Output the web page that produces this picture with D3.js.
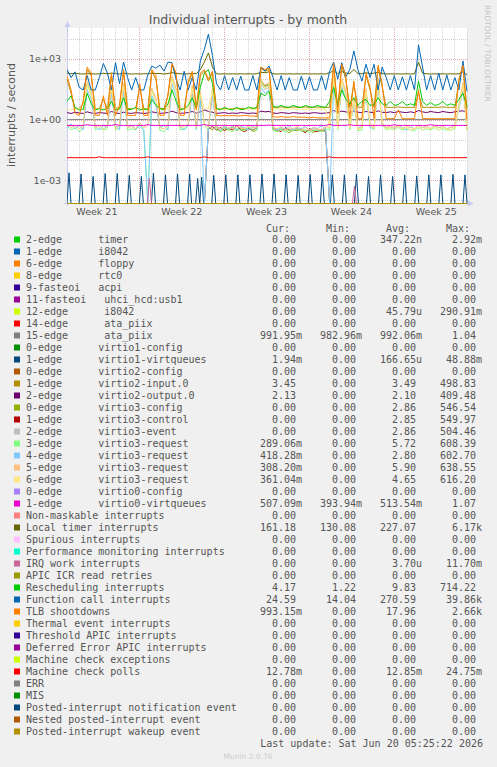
<!DOCTYPE html>
<html><head><meta charset="utf-8">
<script src="https://cdn.jsdelivr.net/npm/d3@7/dist/d3.min.js"></script>
<style>
body{margin:0;background:#f0f0f0;}
svg{display:block;}
text{font-family:"DejaVu Sans",sans-serif;}
.mono{font-family:"DejaVu Sans Mono",monospace;font-size:10px;fill:#555;white-space:pre;}
</style></head><body><svg id="c" width="497" height="767"></svg>
<script>
// ---------- data ----------
const title = "Individual interrupts - by month";
const yAxisLabel = "interrupts / second";
const timeStart = new Date(2026,4,18,0,50,0);
const timeEnd = new Date(2026,5,20,0,50,0);
const yTickLabels = ["1e-03","1e+00","1e+03"];
const yTickValues = [1e-3,1,1e3];
const yGridValues = [1e-4,1e-3,1e-2,1e-1,1,1e1,1e2,1e3,1e4];

const seriesLabels = [
"2-edge      timer","1-edge      i8042","6-edge      floppy","8-edge      rtc0",
"9-fasteoi   acpi","11-fasteoi   uhci_hcd:usb1","12-edge      i8042","14-edge      ata_piix",
"15-edge      ata_piix","0-edge      virtio1-config","1-edge      virtio1-virtqueues",
"0-edge      virtio2-config","1-edge      virtio2-input.0","2-edge      virtio2-output.0",
"0-edge      virtio3-config","1-edge      virtio3-control","2-edge      virtio3-event",
"3-edge      virtio3-request","4-edge      virtio3-request","5-edge      virtio3-request",
"6-edge      virtio3-request","0-edge      virtio0-config","1-edge      virtio0-virtqueues",
"Non-maskable interrupts","Local timer interrupts","Spurious interrupts",
"Performance monitoring interrupts","IRQ work interrupts","APIC ICR read retries",
"Rescheduling interrupts","Function call interrupts","TLB shootdowns",
"Thermal event interrupts","Threshold APIC interrupts","Deferred Error APIC interrupts",
"Machine check exceptions","Machine check polls","ERR","MIS",
"Posted-interrupt notification event","Nested posted-interrupt event","Posted-interrupt wakeup event"];

const seriesColors = [
"#00cc00","#0066b3","#ff8000","#ffcc00","#330099","#990099","#ccff00","#ff0000","#808080",
"#008f00","#00487d","#b35a00","#b38f00","#6b006b","#8fb300","#b30000","#bebebe","#80ff80",
"#80c9ff","#ffc080","#ffe680","#aa80ff","#ee00cc","#ff8080","#666600","#ffbfff","#00ffcc",
"#cc6699","#999900","#00cc00","#0066b3","#ff8000","#ffcc00","#330099","#990099","#ccff00",
"#ff0000","#808080","#008f00","#00487d","#b35a00","#b38f00"];

const legendCur = ["0.00","0.00","0.00","0.00","0.00","0.00","0.00","0.00","991.95m","0.00","1.94m","0.00","3.45","2.13","0.00","0.00","0.00","289.06m","418.28m","308.20m","361.04m","0.00","507.09m","0.00","161.18","0.00","0.00","0.00","0.00","4.17","24.59","993.15m","0.00","0.00","0.00","0.00","12.78m","0.00","0.00","0.00","0.00","0.00"];
const legendMin = ["0.00","0.00","0.00","0.00","0.00","0.00","0.00","0.00","982.96m","0.00","0.00","0.00","0.00","0.00","0.00","0.00","0.00","0.00","0.00","0.00","0.00","0.00","393.94m","0.00","130.08","0.00","0.00","0.00","0.00","1.22","14.04","0.00","0.00","0.00","0.00","0.00","0.00","0.00","0.00","0.00","0.00","0.00"];
const legendAvg = ["347.22n","0.00","0.00","0.00","0.00","0.00","45.79u","0.00","992.06m","0.00","166.65u","0.00","3.49","2.10","2.86","2.85","2.86","5.72","2.80","5.90","4.65","0.00","513.54m","0.00","227.07","0.00","0.00","3.70u","0.00","9.83","270.59","17.96","0.00","0.00","0.00","0.00","12.85m","0.00","0.00","0.00","0.00","0.00"];
const legendMax = ["2.92m","0.00","0.00","0.00","0.00","0.00","290.91m","0.00","1.04","0.00","48.88m","0.00","498.83","409.48","546.54","549.97","504.46","608.39","602.70","638.55","616.20","0.00","1.07","0.00","6.17k","0.00","0.00","11.70m","0.00","714.22","39.86k","2.66k","0.00","0.00","0.00","0.00","24.75m","0.00","0.00","0.00","0.00","0.00"];

// series values, evenly spaced over the time range
const flatZero = [0,0];
const ataPiix15 = [0.99,0.99,0.992,0.99,0.991,0.99,0.992,0.99,0.99,0.992];
const virtio1Vq = [
0,0.0023,0,0,0,0,0,0.0020,0,0,0,0,0,0.0015,0,0,0,0,0,0.0021,
0,0,0,0,0,0.0021,0,0,0,0,0,0.0017,0,0,0,0,0,0.0015,0,0,
0,0,0,0.0022,0,0,0,0,0,0.0018,0,0,0,0,0,0.0020,0,0,0,0,
0,0.0020,0,0,0,0.0012,0,0.0014,0,0,0,0,0,0.0017,0,0,0,0,0,0.0018,
0,0,0,0,0,0.0018,0,0,0,0,0,0.0018,0,0,0,0,0,0.0020,0,0,
0,0,0,0.0020,0,0,0,0,0,0.0018,0,0,0,0,0,0.0017,0,0,0,0,
0,0.0019,0,0,0,0,0,0.0019,0,0,0,0,0.0018,0,0,0,0,0,0.0018,0,
0,0,0,0,0.0019,0,0,0,0,0,0.0015,0,0,0,0,0,0.0018,0,0,0,
0,0,0.0015,0,0,0,0,0,0.0018,0,0,0,0,0,0.0016,0,0,0,0,0,
0.0018,0,0,0,0,0,0.0018,0,0,0,0,0,0.0019,0,0,0,0,0,0.0018,0];
const irqWork = [
0,0,0,0,0,0,0,0,0,0,0,0,0,0,0,0,0,0,0,0,
0,0,0,0,0,0,0,0,0,0,0,0,0,0,0,0,0,0,0,0,
0,0.0012,0,0,0,0,0,0,0,0,0,0,0,0,0,0,0,0,0,0,
0,0,0,0,0,0,0,0,0,0,0,0,0,0,0,0,0,0,0,0,
0,0,0,0,0,0,0,0,0,0,0,0,0,0,0,0,0,0,0,0,
0,0,0,0,0,0,0,0,0,0,0,0,0,0,0,0,0,0,0,0,
0,0,0,0,0,0,0,0,0,0,0,0,0,0,0,0,0,0,0,0,
0,0,0,0.0005,0,0,0,0,0,0,0,0,0,0,0,0,0,0,0,0,
0,0,0,0,0,0,0,0,0,0,0,0,0,0,0,0,0,0,0,0,
0,0,0,0,0,0,0,0,0,0,0,0,0,0,0,0,0,0,0,0];
const functionCall = [
300,120,230,40,29,150,29,29,120,600,
200,29,650,60,700,120,29,120,29,29,
160,450,350,500,250,700,650,100,29,250,
29,120,29,800,3000,17000,1500,60,29,150,
29,120,29,140,29,29,150,29,400,250,
450,120,29,150,29,120,29,29,140,29,
130,29,29,150,29,250,700,100,650,130,
300,2500,300,80,550,120,550,29,400,120,
29,150,29,130,29,150,29,5000,400,29,
150,29,200,29,160,29,120,29,800,25];
const localTimer = [
200,185,195,185,180,190,185,180,185,195,
185,200,190,180,200,185,180,185,180,185,
185,195,190,190,180,190,210,195,185,180,
185,195,185,300,700,2000,400,185,180,185,
180,185,180,185,180,185,180,185,220,210,
230,185,180,185,180,185,180,185,180,185,
180,185,180,185,180,210,260,190,240,200,
190,300,190,185,210,185,200,220,190,180,
185,180,185,180,185,180,185,700,200,185,
180,185,180,185,180,185,180,185,230,161];
const rescheduling = [
8,15,4,3,3.2,20,6,3,3.4,3,
3.5,8,3,3.3,12,3,3.2,4,3,3.3,
3,10,5,3.5,3,6,30,8,3,3.4,
5,12,3.5,40,200,300,60,3.4,3,4,
3.2,3,4,3.1,3.3,4.2,3.5,4,20,15,
25,4.5,4,5,4.2,4,5,4.3,4,5,
4.2,4.1,5,4.3,4,8,40,5,30,10,
6,12,5,8,10,5,5.5,12,6,5,
8,5,5.5,8,5,6,5,80,8,5,
7,5,5.5,8,5,6,5,10,20,4.2];
const tlb = [
150,30,2,1.6,8,400,200,1.6,1.6,15,
1.6,200,1.6,5,300,1.6,1.6,1.6,60,1.6,
1.6,300,150,1.6,1.6,20,600,200,1.6,1.6,
80,250,3,200,300,100,250,1.6,1.5,1.6,
1.5,1.6,1.5,1.5,1.6,1.5,1.5,1.4,400,300,
350,1.4,1.3,1.4,1.3,1.3,1.4,1.3,1.3,1.3,
1.2,1.3,1.2,1.2,1.2,1.2,600,2,550,150,
1.1,80,1.1,1.1,200,40,1.1,500,60,1.1,
1.1,1.1,3,1.1,1.1,1.1,1.1,30,1.1,1.1,
1.1,1.1,1.1,1.1,1.1,1.1,1.1,100,500,0.99];
const virtio2Input = [
100,20,3.5,3.5,6,300,150,3.5,3.5,10,
3.5,150,3.5,4,250,3.5,3.5,3.5,40,3.5,
3.5,250,100,3.5,3.5,15,500,150,3.5,3.5,
60,200,4,150,250,80,200,3.5,3.5,3.5,
3.5,3.5,3.6,3.5,3.5,3.5,3.6,3.5,350,250,
300,4,4,4.2,4,4,4.2,4,4,4.2,
4,4,4.2,4,4,4,500,4,450,100,
4,60,4,4,150,30,4,400,40,4,
4,4,4.2,4,4,4,4,20,4,4,
4,4,4,4.2,4,4,4,80,400,3.45];
const virtio2Output = [
2.2,2.0,2.3,2.1,2.0,2.4,2.1,2.0,2.2,2.1,
2.0,2.5,2.1,2.0,2.3,2.1,2.0,2.2,2.1,2.0,
2.1,2.4,2.2,2.0,2.1,2.2,2.6,2.2,2.0,2.1,
2.2,2.5,2.1,2.4,3.0,2.5,2.3,2.0,2.1,2.2,
2.0,2.1,2.0,2.2,2.1,2.0,2.1,2.0,2.6,2.4,
2.5,2.1,2.0,2.2,2.1,2.0,2.2,2.1,2.0,2.1,
2.0,2.2,2.1,2.0,2.1,2.2,2.8,2.3,2.6,2.4,
2.2,2.6,2.3,2.2,2.5,2.3,2.2,2.7,2.3,2.2,
2.4,2.2,2.5,2.3,2.2,2.4,2.2,2.8,2.4,2.2,
2.5,2.3,2.2,2.5,2.3,2.2,2.4,2.6,2.7,2.13];
const virtio3Config = [
0,0,0,0,0,0,0,0,0,0,0,0,0,0,0,0,0,0,0,0,
0,0,0,0,0,0,0,0,0,0,0,0,0,0,0,0.4,0.3,0.5,0.25,0.35,
0.3,0.45,0.28,0.35,0.3,0.4,0.25,0.3,80,40,60,0.3,0.25,0.35,0.3,0.22,0.3,0.28,0.35,0.25,
0.3,0.22,0.3,0.28,0.25,0,0,0,0,0,0,0,0,0,0,0,0,0,0,0,
0,0,0,0,0,0,0,0,0,0,0,0,0,0,0,0,0,0,0,0];
const virtio3Control = [
0,0,0,0,0,0,0,0,0,0,0,0,0,0,0,0,0,0,0,0,
0,0,0,0,0,0,0,0,0,0,0,0,0,0,0,0.35,0.45,0.3,0.4,0.28,
0.38,0.3,0.5,0.3,0.25,0.35,0.3,0.4,70,50,50,0.35,0.3,0.25,0.4,0.3,0.28,0.35,0.3,0.22,
0.35,0.28,0.25,0.3,0.3,0,0,0,0,0,0,0,0,0,0,0,0,0,0,0,
0,0,0,0,0,0,0,0,0,0,0,0,0,0,0,0,0,0,0,0];
const virtio3Event = [
0,0,0,0,0,0,0,0,0,0,0,0,0,0,0,0,0,0,0,0,
0,0,0,0,0,0,0,0,0,0,0,0,0,0,0,0.45,0.35,0.4,0.3,0.4,
0.35,0.4,0.3,0.45,0.35,0.3,0.4,0.35,60,30,40,0.3,0.35,0.3,0.3,0.35,0.3,0.4,0.28,0.3,
0.3,0.35,0.3,0.3,0.4,0,0,0,0,0,0,0,0,0,0,0,0,0,0,0,
0,0,0,0,0,0,0,0,0,0,0,0,0,0,0,0,0,0,0,0];
const virtio3Req3 = [
0.5,0.3,0.4,0.25,0.35,60,20,0.3,0.4,0.3,
0.35,40,0.3,0.4,50,0.3,0.35,0.3,0.6,0.3,
0,30,10,0.3,0.25,0.4,120,30,0.3,0.35,
0.5,40,0.3,20,0.5,0.3,30,0.3,0.25,0.4,
0.3,0.25,0.35,0.3,0.28,0.4,0.3,0.3,80,40,
60,0.3,0.25,0.35,0.22,0.3,0.28,0.35,0.25,0.3,
0.22,0.3,0.28,0.25,0.35,0.3,120,0.3,90,20,
0.3,10,0.28,0.3,30,0.5,0.3,90,0.6,0.3,
0.35,0.3,0.4,0.3,0.35,0.3,0.28,0.4,0.3,0.35,
0.3,0.4,0.3,0.35,0.3,0.3,0.35,5,60,0.29];
const virtio3Req4 = [
0.4,0.6,0.35,0.5,0.3,30,10,0.45,0.3,0.5,
0.4,20,0.55,0.3,25,0.4,0.5,0.35,0.45,0.3,
0,15,5,0.4,0.5,0.3,60,15,0.45,0.3,
0.5,20,0.35,10,0,0.4,15,0.5,0.3,0.45,
0.35,0.5,0.3,0.45,0.4,0.3,0.5,0.35,40,20,
30,0.45,0.3,0.4,0.35,0.5,0.3,0.4,0.35,0.45,
0.3,0.4,0.35,0.5,0.3,0,60,0.4,45,10,
0.45,5,0.35,0.5,15,0.4,0.35,45,0.5,0.4,
0.45,0.35,0.5,0.4,0.3,0.45,0.35,0.5,0.4,0.45,
0.35,0.5,0.4,0.45,0.35,0.4,0.5,3,30,0.42];
const virtio3Req5 = [
0.6,0.4,0.5,0.35,0.45,80,25,0.4,0.5,0.35,
0.45,50,0.35,0.5,60,0.4,0.45,0.35,0.7,0.4,
0.5,35,12,0.4,0.35,0.5,150,35,0.4,0.45,
0.6,50,0.4,25,0.6,0.4,35,0.4,0.35,0.5,
0.4,0.35,0.45,0.4,0.35,0.5,0.4,0.4,100,50,
70,0.4,0.35,0.45,0.3,0.4,0.35,0.45,0.3,0.4,
0.3,0.4,0.35,0.3,0.45,0.4,150,0.4,110,25,
0.4,12,0.35,0.4,35,0.6,0.4,110,0.7,0.4,
0.45,0.4,0.5,0.35,0.45,0.4,0.35,0.5,0.4,0.45,
0.35,0.5,0.4,0.45,0.35,0.4,0.45,6,70,0.31];
const virtio3Req6 = [
3.5,3,3.2,3.6,3.1,50,15,3.3,3.5,3,
3.4,35,3.2,3.6,45,3.1,3.3,3.5,4,3.2,
3.4,25,8,3.3,3.1,3.5,100,25,3.2,3.4,
3.6,35,3.2,18,3.5,3.3,25,3.2,3.4,3.1,
3.5,3.2,3.4,3.1,3.3,3.5,3.2,3.4,70,35,
50,3.2,3.4,3.1,3.5,3.2,3.3,3.1,3.4,3.2,
3.3,3.1,3.4,3.2,3.3,0.4,100,0.35,80,15,
0.4,8,0.3,0.45,25,0.5,0.35,80,0.55,0.35,
0.4,0.3,0.45,0.35,0.4,0.3,0.35,0.45,0.3,0.4,
0.35,0.45,0.3,0.4,0.35,0.3,0.4,4,50,0.36];
const virtio0Vq = [
0.51,0.51,0.51,0.51,0.51,0.55,0.51,0.51,0.51,0.51,
0.51,0.51,0.56,0.51,0.51,0.51,0.51,0.51,0.51,0.51,
0.55,0.51,0.51,0.51,0.51,0.51,0.51,0.51,0.51,0.51,
0.51,0.51,0.51,0.51,0.56,0.51,0.51,0.51,0.51,0.51,
0.51,0.51,0.51,0.51,0.51,0.51,0.51,0.51,0.51,0.51,
0.53,0.51,0.51,0.51,0.51,0.51,0.51,0.51,0.51,0.51,
0.51,0.51,0.51,0.51,0.51,0.57,0.51,0.51,0.51,0.51,
0.55,0.51,0.51,0.51,0.51,0.51,0.51,0.51,0.51,0.51,
0.51,0.54,0.51,0.51,0.51,0.51,0.51,0.51,0.51,0.51,
0.55,0.51,0.51,0.51,0.51,0.51,0.51,0.51,0.51,0.507];
const mcePolls = [
0.0128,0.0128,0.0128,0.0128,0.0128,0.0128,0.0128,0.0128,0.014,0.0128,
0.0128,0.0128,0.0128,0.0128,0.0128,0.0128,0.0128,0.0128,0.0128,0.0128,
0.014,0.0128,0.0128,0.0128,0.0128,0.0128,0.0128,0.0128,0.0128,0.0128,
0.0128,0.0128,0.0128,0.0128,0.014,0.0128,0.0128,0.0128,0.0128,0.0128,
0.0128,0.0128,0.0128,0.0128,0.0128,0.0128,0.0128,0.0128,0.0128,0.0128,
0.0128,0.0128,0.0128,0.0128,0.0128,0.0128,0.0128,0.0128,0.0128,0.0128,
0.0128,0.0128,0.0128,0.0128,0.0128,0.014,0.0128,0.0128,0.0128,0.0128,
0.0128,0.0128,0.0128,0.0128,0.0128,0.0128,0.0128,0.0128,0.0128,0.0128,
0.0128,0.0128,0.0128,0.0128,0.0128,0.0128,0.0128,0.0128,0.0128,0.0128,
0.0128,0.0128,0.0128,0.0128,0.0128,0.0128,0.0128,0.0128,0.0128,0.0128];

const seriesValues = [
flatZero,flatZero,flatZero,flatZero,flatZero,flatZero,flatZero,flatZero,ataPiix15,
flatZero,virtio1Vq,flatZero,virtio2Input,virtio2Output,virtio3Config,virtio3Control,virtio3Event,
virtio3Req3,virtio3Req4,virtio3Req5,virtio3Req6,flatZero,virtio0Vq,flatZero,localTimer,flatZero,
flatZero,irqWork,flatZero,rescheduling,functionCall,tlb,flatZero,flatZero,flatZero,flatZero,
mcePolls,flatZero,flatZero,flatZero,flatZero,flatZero];

// ---------- drawing ----------
const svg = d3.select("#c");
const X0=67, X1=467, Y0=28, Y1=203;
svg.append("rect").attr("width",497).attr("height",767).attr("fill","#f0f0f0");
svg.append("rect").attr("x",X0).attr("y",Y0).attr("width",X1-X0).attr("height",Y1-Y0).attr("fill","#ffffff");

const x = d3.scaleTime().domain([timeStart,timeEnd]).range([X0,X1]);
const y = d3.scaleLog().domain([7.24e-5,34430]).range([Y1,Y0]);

// grid
const minorCol="#d4d4d4", majorCol="#e4a8a8";
const days = d3.timeDay.range(d3.timeDay.ceil(timeStart), timeEnd);
const sundays = d3.timeSunday.range(timeStart, timeEnd);
const sunKeys = new Set(sundays.map(d=>+d));
svg.append("g").selectAll("line").data(days.filter(d=>!sunKeys.has(+d))).join("line")
  .attr("x1",d=>Math.round(x(d))+0.5).attr("x2",d=>Math.round(x(d))+0.5)
  .attr("y1",Y0).attr("y2",Y1+3).attr("stroke",minorCol).attr("stroke-dasharray","1,1");
svg.append("g").selectAll("line").data(yGridValues.filter(v=>!yTickValues.includes(v))).join("line")
  .attr("x1",X0-2).attr("x2",X1+2).attr("y1",d=>Math.round(y(d))+0.5).attr("y2",d=>Math.round(y(d))+0.5)
  .attr("stroke",minorCol).attr("stroke-dasharray","1,1");
svg.append("g").selectAll("line").data(sundays).join("line")
  .attr("x1",d=>Math.round(x(d))+0.5).attr("x2",d=>Math.round(x(d))+0.5)
  .attr("y1",Y0).attr("y2",Y1+3).attr("stroke",majorCol).attr("stroke-dasharray","1,1");
svg.append("g").selectAll("line").data(yTickValues).join("line")
  .attr("x1",X0-2).attr("x2",X1+2).attr("y1",d=>Math.round(y(d))+0.5).attr("y2",d=>Math.round(y(d))+0.5)
  .attr("stroke",majorCol).attr("stroke-dasharray","1,1");

// tick labels
svg.append("g").selectAll("text").data(yTickValues).join("text")
  .attr("x",61).attr("y",d=>y(d)+3.5).attr("text-anchor","end")
  .attr("font-size","9.5px").attr("fill","#555").text((d,i)=>yTickLabels[i]);
const weekMids = d3.timeSunday.range(d3.timeSunday.floor(timeStart), timeEnd)
  .map(d=>d3.timeHour.offset(d,84)).filter(d=>d>timeStart && d<timeEnd);
svg.append("g").selectAll("text").data(weekMids).join("text")
  .attr("x",d=>x(d)).attr("y",215).attr("text-anchor","middle")
  .attr("font-size","9.5px").attr("fill","#555").text(d=>"Week "+d3.timeFormat("%V")(d));

// axes
const axisCol="#c8ccf4";
svg.append("line").attr("x1",X0+0.5).attr("x2",X0+0.5).attr("y1",Y1+3).attr("y2",Y0-2).attr("stroke",axisCol);
svg.append("line").attr("x1",X0-3).attr("x2",X1+2).attr("y1",Y1+0.5).attr("y2",Y1+0.5).attr("stroke",axisCol);
svg.append("path").attr("d",`M${X0-2.5},${Y0-1}L${X0+3.5},${Y0-1}L${X0+0.5},${Y0-7}Z`).attr("fill",axisCol);
svg.append("path").attr("d",`M${X1+1},${Y1-2.5}L${X1+1},${Y1+3.5}L${X1+7},${Y1+0.5}Z`).attr("fill",axisCol);

// series
svg.append("clipPath").attr("id","plotclip").append("rect")
  .attr("x",X0).attr("y",Y0).attr("width",X1-X0+1).attr("height",Y1-Y0+1.5);
const span = timeEnd - timeStart;
const gS = svg.append("g").attr("clip-path","url(#plotclip)");
seriesValues.forEach((vals,si)=>{
  const n = vals.length;
  const line = d3.line()
    .x((v,i)=>x(new Date(+timeStart + span*i/(n-1))))
    .y(v=> v>0 ? y(v) : Y1+0.5);
  gS.append("path").attr("d",line(vals)).attr("fill","none")
    .attr("stroke",seriesColors[si]).attr("stroke-width",1);
});

// title & labels
svg.append("text").attr("x",248).attr("y",24).attr("text-anchor","middle")
  .attr("font-size","12.5px").attr("fill","#555").text(title);
svg.append("text").attr("transform","translate(15,115) rotate(-90)").attr("text-anchor","middle")
  .attr("font-size","11px").attr("fill","#555").text(yAxisLabel);
svg.append("text").attr("transform","translate(485,5) rotate(90)").attr("text-anchor","start")
  .attr("font-size","7.5px").attr("fill","#c4c4c4").text("RRDTOOL / TOBI OETIKER");

// legend
const colEnds=[296,356,416,476];
const headers=["Cur:","Min:","Avg:","Max:"];
const gL = svg.append("g");
headers.forEach((h,i)=>gL.append("text").attr("class","mono").attr("x",colEnds[i]-6).attr("y",232)
  .attr("text-anchor","end").text(h));
const cols=[legendCur,legendMin,legendAvg,legendMax];
seriesLabels.forEach((lab,i)=>{
  const yb = 243 + 12*i;
  gL.append("rect").attr("x",14).attr("y",yb-6.5).attr("width",6).attr("height",6).attr("fill",seriesColors[i]);
  gL.append("text").attr("class","mono").attr("x",26).attr("y",yb).attr("xml:space","preserve").text(lab);
  cols.forEach((c,ci)=>{
    const s=c[i]; const m=s.match(/^([\d.]+)([a-zA-Z]?)$/);
    gL.append("text").attr("class","mono").attr("x",colEnds[ci]).attr("y",yb).attr("text-anchor","end").text(m[1]);
    if(m[2]) gL.append("text").attr("class","mono").attr("x",colEnds[ci]).attr("y",yb).text(m[2]);
  });
});
gL.append("text").attr("class","mono").attr("x",483).attr("y",747).attr("text-anchor","end")
  .text("Last update: Sat Jun 20 05:25:22 2026");
svg.append("text").attr("x",248).attr("y",759).attr("text-anchor","middle")
  .attr("font-size","7.5px").attr("fill","#cccccc").text("Munin 2.0.76");
</script></body></html>
